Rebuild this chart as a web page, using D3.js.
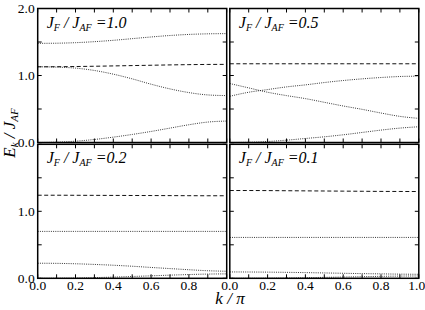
<!DOCTYPE html>
<html>
<head>
<meta charset="utf-8">
<script src="https://cdn.jsdelivr.net/npm/d3@7"></script>
<style>
  body { margin: 0; background: #fff; }
</style>
</head>
<body>
<div id="graph"></div>
<script>
// k / pi sample points (shared by all panels)
let k_values = [0.0, 0.1, 0.2, 0.3, 0.4, 0.5, 0.6, 0.7, 0.8, 0.9, 1.0];

// J_F / J_AF = 1.0
let p1_dash   = [1.13, 1.131, 1.134, 1.138, 1.143, 1.148, 1.153, 1.158, 1.162, 1.165, 1.166];
let p1_top    = [1.48, 1.482, 1.49, 1.505, 1.525, 1.55, 1.575, 1.597, 1.613, 1.622, 1.625];
let p1_mid    = [1.13, 1.125, 1.11, 1.075, 1.02, 0.95, 0.87, 0.80, 0.745, 0.71, 0.70];
let p1_low    = [0.0, 0.005, 0.02, 0.045, 0.08, 0.12, 0.165, 0.215, 0.265, 0.305, 0.32];
// J_F / J_AF = 0.5
let p2_dash   = [1.175, 1.175, 1.175, 1.175, 1.175, 1.175, 1.175, 1.175, 1.175, 1.175, 1.175];
let p2_down   = [0.88, 0.815, 0.75, 0.70, 0.655, 0.60, 0.545, 0.495, 0.44, 0.39, 0.36];
let p2_up     = [0.69, 0.75, 0.79, 0.83, 0.86, 0.895, 0.925, 0.95, 0.97, 0.985, 0.99];
let p2_low    = [0.0, 0.003, 0.015, 0.035, 0.06, 0.085, 0.115, 0.15, 0.185, 0.215, 0.235];
// J_F / J_AF = 0.2
let p3_dash   = [1.24, 1.24, 1.239, 1.238, 1.237, 1.236, 1.235, 1.234, 1.233, 1.232, 1.232];
let p3_mid    = [0.70, 0.70, 0.70, 0.70, 0.70, 0.70, 0.70, 0.70, 0.70, 0.70, 0.70];
let p3_upper  = [0.225, 0.223, 0.217, 0.207, 0.195, 0.18, 0.162, 0.145, 0.128, 0.113, 0.105];
let p3_lower  = [0.0, 0.001, 0.004, 0.01, 0.018, 0.027, 0.037, 0.047, 0.056, 0.063, 0.066];
// J_F / J_AF = 0.1
let p4_dash   = [1.31, 1.31, 1.309, 1.307, 1.305, 1.303, 1.301, 1.299, 1.297, 1.296, 1.295];
let p4_mid    = [0.61, 0.61, 0.61, 0.61, 0.61, 0.61, 0.61, 0.61, 0.61, 0.61, 0.61];
let p4_upper  = [0.095, 0.094, 0.092, 0.089, 0.085, 0.08, 0.075, 0.07, 0.066, 0.062, 0.06];
let p4_lower  = [0.0, 0.0005, 0.002, 0.005, 0.009, 0.014, 0.019, 0.024, 0.029, 0.033, 0.035];

// panel titles (ratio value)
let ratios = ["1.0", "0.5", "0.2", "0.1"];

// tick labels
let x_tick_labels = [0.0, 0.2, 0.4, 0.6, 0.8, 1.0];
let y_tick_labels = [0.0, 1.0, 2.0];

let panels = [
  { ratio: ratios[0], col: 0, row: 0, dashed: [p1_dash], dotted: [p1_top, p1_mid, p1_low] },
  { ratio: ratios[1], col: 1, row: 0, dashed: [p2_dash], dotted: [p2_down, p2_up, p2_low] },
  { ratio: ratios[2], col: 0, row: 1, dashed: [p3_dash], dotted: [p3_mid, p3_upper, p3_lower] },
  { ratio: ratios[3], col: 1, row: 1, dashed: [p4_dash], dotted: [p4_mid, p4_upper, p4_lower] }
];

//layout
let width = 425, height = 310;
let panel_left = [37.7, 229.8],
    panel_top = [8.5, 144.3],
    panel_w = 189,
    panel_h = 134;
let serif = "Liberation Serif";

let svg = d3.select("#graph")
            .append("svg")
            .attr("width", width)
            .attr("height", height);

let x = d3.scaleLinear().domain([0, 1]).range([0, panel_w]);
let y = d3.scaleLinear().domain([0, 2]).range([panel_h, 0]);

let line = d3.line()
             .x(function(d) { return x(d[0]) })
             .y(function(d) { return y(d[1]) })
             .curve(d3.curveMonotoneX);

panels.forEach(function(p) {
  let g = svg.append("g")
             .attr("transform", `translate(${panel_left[p.col]},${panel_top[p.row]})`);

  // curves
  p.dotted.forEach(function(vals) {
    g.append("path")
     .datum(k_values.map(function(k, i) { return [k, vals[i]] }))
     .attr("fill", "none")
     .attr("stroke", "#222")
     .attr("stroke-width", 0.9)
     .attr("stroke-dasharray", "1,1.2")
     .attr("d", line);
  });
  p.dashed.forEach(function(vals) {
    g.append("path")
     .datum(k_values.map(function(k, i) { return [k, vals[i]] }))
     .attr("fill", "none")
     .attr("stroke", "#111")
     .attr("stroke-width", 1)
     .attr("stroke-dasharray", "4,2.5")
     .attr("d", line);
  });

  // inward ticks on all four sides
  let x_ticks = d3.range(0, 11).map(function(i) { return i / 10 });
  let y_ticks = d3.range(0, 5).map(function(i) { return i / 2 });
  x_ticks.forEach(function(t) {
    g.append("line").attr("x1", x(t)).attr("x2", x(t))
     .attr("y1", panel_h).attr("y2", panel_h - 4)
     .attr("stroke", "#000").attr("stroke-width", 1);
    g.append("line").attr("x1", x(t)).attr("x2", x(t))
     .attr("y1", 0).attr("y2", 4)
     .attr("stroke", "#000").attr("stroke-width", 1);
  });
  y_ticks.forEach(function(t) {
    g.append("line").attr("x1", 0).attr("x2", 4)
     .attr("y1", y(t)).attr("y2", y(t))
     .attr("stroke", "#000").attr("stroke-width", 1);
    g.append("line").attr("x1", panel_w).attr("x2", panel_w - 4)
     .attr("y1", y(t)).attr("y2", y(t))
     .attr("stroke", "#000").attr("stroke-width", 1);
  });

  // frame
  g.append("rect")
   .attr("width", panel_w)
   .attr("height", panel_h)
   .attr("fill", "none")
   .attr("stroke", "#000")
   .attr("stroke-width", 1.5);

  // title J_F / J_AF = value
  let title = g.append("text")
               .attr("x", 9)
               .attr("y", 19)
               .attr("font-family", serif)
               .style("font-size", "16px")
               .style("font-style", "italic");
  title.append("tspan").text("J");
  title.append("tspan").attr("dy", 3).style("font-size", "10px").text("F");
  title.append("tspan").attr("dy", -3).text(" / J");
  title.append("tspan").attr("dy", 3).style("font-size", "10px").text("AF");
  title.append("tspan").attr("dy", -3).text(" =" + p.ratio);

  // y tick labels (left column only)
  if (p.col == 0) {
    y_tick_labels.forEach(function(v) {
      if (p.row == 1 && v == 2.0) return;
      g.append("text")
       .attr("x", -3)
       .attr("y", y(v))
       .attr("dy", "0.33em")
       .attr("font-family", serif)
       .style("text-anchor", "end")
       .style("font-size", "13.5px")
       .text(v.toFixed(1));
    });
  }
  // x tick labels (bottom row only)
  if (p.row == 1) {
    x_tick_labels.forEach(function(v) {
      if (p.col == 0 && v == 1.0) return;
      g.append("text")
       .attr("x", p.col == 1 && v == 1.0 ? x(v) - 2 : x(v))
       .attr("y", panel_h + 12)
       .attr("font-family", serif)
       .style("text-anchor", "middle")
       .style("font-size", "13.5px")
       .text(v.toFixed(1));
    });
  }
});

//x axis label
let xl = svg.append("text")
            .attr("x", 230)
            .attr("y", 304)
            .attr("font-family", serif)
            .style("text-anchor", "middle")
            .style("font-size", "17px")
            .style("font-style", "italic");
xl.append("tspan").text("k / ");
xl.append("tspan").text("\u03c0");

//y axis label
let yl = svg.append("text")
            .attr("transform", "translate(15,133) rotate(-90)")
            .attr("font-family", serif)
            .style("text-anchor", "middle")
            .style("font-size", "17px")
            .style("font-style", "italic");
yl.append("tspan").text("E");
yl.append("tspan").attr("dy", 3).style("font-size", "11px").text("k");
yl.append("tspan").attr("dy", -3).text(" / J");
yl.append("tspan").attr("dy", 3).style("font-size", "11px").text("AF");
</script>
</body>
</html>
